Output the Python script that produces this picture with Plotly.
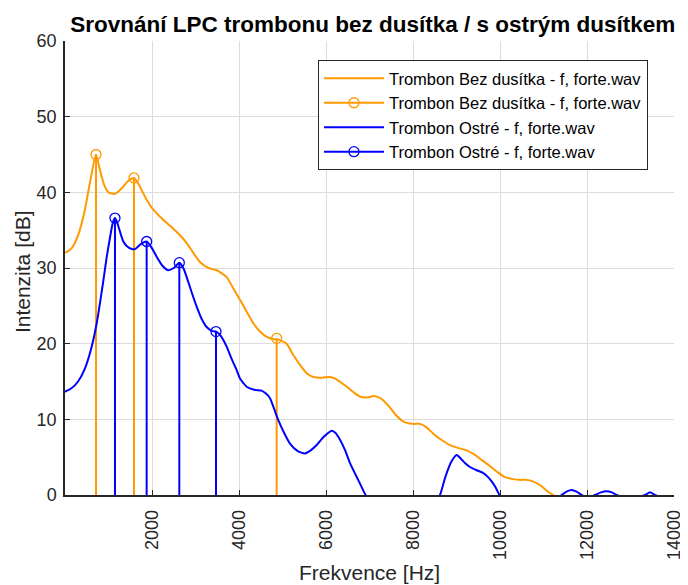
import plotly.graph_objects as go

# ---- data ----
orange_f = [0, 150, 300, 450, 580, 713, 800, 900, 1000, 1149, 1300, 1450, 1586, 1700, 1850,
            2031, 2250, 2490, 2650, 2797, 2950, 3103, 3300, 3487, 3717, 3850, 4023, 4180, 4329,
            4500, 4636, 4789, 4866, 5000, 5096, 5249, 5402, 5556, 5709, 5900, 6092, 6200, 6476,
            6650, 6782, 6950, 7100, 7250, 7450, 7600, 7778, 8000, 8161, 8300, 8467, 8650, 8851,
            9050, 9234, 9400, 9540, 9750, 9923, 10100, 10306, 10450, 10613, 10750, 10920, 11111,
            11226, 11400, 11700, 12000, 12500, 13000, 13500, 14000]
orange_db = [32.0, 32.6, 34.3, 37.5, 41.5, 45.0, 43.0, 41.0, 40.0, 39.8, 40.5, 41.5, 41.9, 41.0, 39.3,
             37.7, 36.4, 35.2, 34.3, 33.3, 32.0, 30.8, 30.0, 29.7, 28.8, 27.5, 25.8, 24.2, 22.7,
             21.5, 20.9, 20.6, 20.6, 20.3, 20.0, 18.5, 17.2, 16.1, 15.6, 15.5, 15.6, 15.4, 14.3,
             13.5, 13.0, 12.9, 13.1, 12.8, 11.7, 10.6, 9.7, 9.4, 9.4, 9.0, 8.1, 7.3, 6.6,
             6.2, 5.9, 5.4, 4.8, 3.9, 3.1, 2.4, 2.1, 2.0, 2.0, 1.8, 1.3, 0.4,
             0.0, -0.8, -1.5, -2.0, -2.5, -3.0, -3.3, -3.5]

blue_f = [0, 150, 300, 450, 600, 729, 881, 960, 1034, 1100, 1149, 1200, 1280, 1341, 1418, 1533,
          1609, 1750, 1877, 1990, 2107, 2240, 2375, 2500, 2628, 2720, 2797, 2900, 3027, 3140,
          3257, 3371, 3471, 3560, 3640, 3717, 3830, 3946, 4023, 4100, 4176, 4350, 4521, 4620,
          4713, 4800, 4904, 5030, 5172, 5350, 5517, 5650, 5785, 5950, 6130, 6220, 6322, 6440,
          6552, 6670, 6782, 6900, 7000, 7300, 7800, 8200, 8500, 8621, 8750, 8880, 9004, 9100,
          9200, 9310, 9450, 9617, 9720, 9808, 9900, 9977, 10100, 10500, 11000, 11418, 11530,
          11648, 11760, 11878, 12030, 12184, 12320, 12452, 12570, 12682, 13000, 13333, 13448,
          13563, 13800, 14000]
blue_db = [13.65, 14.1, 15.0, 16.6, 19.3, 22.7, 28.3, 31.5, 34.0, 36.0, 36.6, 36.0, 34.5, 33.5, 32.9, 32.5,
           32.5, 33.2, 33.5, 32.7, 31.5, 30.3, 29.7, 30.0, 30.7, 30.0, 28.8, 27.0, 24.9, 23.3,
           22.2, 21.7, 21.6, 21.2, 20.5, 19.6, 18.0, 16.5, 15.4, 14.8, 14.3, 13.9, 13.8, 13.4,
           12.8, 11.5, 9.9, 8.3, 6.8, 5.8, 5.5, 5.9, 6.6, 7.7, 8.5, 8.2, 7.3, 5.9,
           4.2, 2.8, 1.5, 0.1, -1.0, -4.0, -6.0, -4.0, -1.2, 0.0, 2.5, 4.4, 5.3, 4.8,
           4.2, 3.7, 3.3, 2.9, 2.4, 1.8, 1.0, 0.1, -1.0, -2.5, -1.5, 0.0, 0.45,
           0.66, 0.45, 0.0, -0.4, 0.0, 0.35, 0.5, 0.35, 0.0, -0.5, 0.0, 0.35,
           0.0, -0.4, -0.6]

orange_peak_f = [713, 1586, 4866]
orange_peak_db = [45.0, 41.9, 20.7]
blue_peak_f = [1149, 1877, 2628, 3471]
blue_peak_db = [36.6, 33.5, 30.7, 21.6]

x_ticks = [2000, 4000, 6000, 8000, 10000, 12000, 14000]
y_ticks = [0, 10, 20, 30, 40, 50, 60]

legend_names = ["Trombon Bez dusítka - f, forte.wav", "Trombon Bez dusítka - f, forte.wav",
                "Trombon Ostré - f, forte.wav", "Trombon Ostré - f, forte.wav"]
title_text = "Srovnání LPC trombonu bez dusítka / s ostrým dusítkem"
x_label = "Frekvence [Hz]"
y_label = "Intenzita [dB]"

ORANGE = "rgb(255,153,0)"
BLUE = "rgb(0,0,255)"
FONT = "Liberation Sans, Arial, sans-serif"
AX = "#262626"


def stem_lines(fs, vals):
    xs, ys = [], []
    for f, v in zip(fs, vals):
        xs += [f, f, None]
        ys += [0, v, None]
    return xs, ys


def add_series(fig, f, db, pf, pdb, color, name_line, name_stem):
    fig.add_trace(go.Scatter(x=f, y=db, mode="lines", name=name_line,
                             line=dict(color=color, width=2, shape="spline", smoothing=0.6)))
    sx, sy = stem_lines(pf, pdb)
    fig.add_trace(go.Scatter(x=sx, y=sy, mode="lines", showlegend=False, hoverinfo="skip",
                             line=dict(color=color, width=2)))
    fig.add_trace(go.Scatter(x=pf, y=pdb, mode="markers", showlegend=False,
                             marker=dict(symbol="circle-open", size=10, color=color,
                                         line=dict(width=1.3, color=color))))
    # legend entry for the stem series
    fig.add_trace(go.Scatter(x=[None], y=[None], mode="lines+markers", name=name_stem,
                             line=dict(color=color, width=2),
                             marker=dict(symbol="circle-open", size=10, color=color,
                                         line=dict(width=1.3, color=color))))


fig = go.Figure()
add_series(fig, orange_f, orange_db, orange_peak_f, orange_peak_db, ORANGE,
           legend_names[0], legend_names[1])
add_series(fig, blue_f, blue_db, blue_peak_f, blue_peak_db, BLUE,
           legend_names[2], legend_names[3])

# page body has an 8px margin, so the figure is 8px smaller and margins are shifted
fig.update_layout(
    width=680, height=577,
    margin=dict(l=57, r=14, t=33, b=90, autoexpand=False),
    paper_bgcolor="white", plot_bgcolor="white",
    font=dict(family=FONT, color=AX),
    title=dict(text="<b>" + title_text + "</b>",
               x=0.5054, xref="paper", xanchor="center",
               y=0.9723, yref="container", yanchor="middle",
               font=dict(size=22.5, color="black", family=FONT)),
    legend=dict(x=0.4154, y=0.958, xanchor="left", yanchor="top",
                bgcolor="white", bordercolor=AX, borderwidth=1,
                font=dict(size=16.5, color="black", family=FONT),
                itemwidth=60, tracegroupgap=0),
    showlegend=True,
    annotations=[
        dict(text=x_label, xref="paper", yref="paper", x=0.5, y=-0.1718,
             xanchor="center", yanchor="middle", showarrow=False,
             font=dict(size=21, color=AX, family=FONT)),
        dict(text=y_label, xref="paper", yref="paper", x=-0.0706, y=0.491,
             xanchor="center", yanchor="middle", textangle=-90, showarrow=False,
             font=dict(size=21, color=AX, family=FONT)),
    ],
)

fig.update_xaxes(range=[0, 14000], tickvals=x_ticks, ticktext=[str(v) for v in x_ticks],
                 tickangle=-90, ticks="inside", ticklen=5, tickcolor=AX, ticklabelstandoff=6,
                 showline=True, linecolor=AX, linewidth=1.5, mirror=False,
                 showgrid=True, gridcolor="#dcdcdc", gridwidth=1, zeroline=False,
                 tickfont=dict(size=18, color=AX))
fig.update_yaxes(range=[0, 60], tickvals=y_ticks,
                 ticks="inside", ticklen=5, tickcolor=AX, ticklabelstandoff=3,
                 showline=True, linecolor=AX, linewidth=1.5, mirror=False,
                 showgrid=True, gridcolor="#dcdcdc", gridwidth=1, zeroline=False,
                 tickfont=dict(size=18, color=AX))

fig.write_html("out.html")
